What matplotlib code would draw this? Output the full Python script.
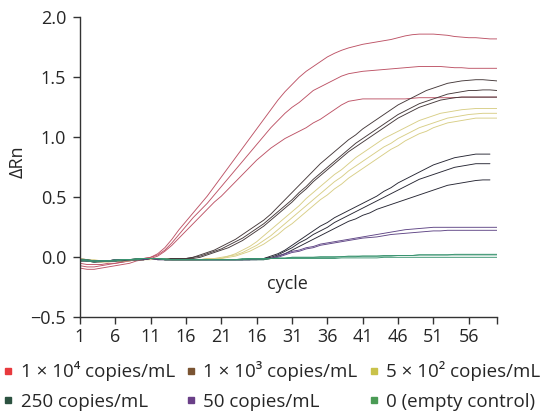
import matplotlib
matplotlib.use("Agg")
import matplotlib.pyplot as plt
from matplotlib.lines import Line2D

plt.rcParams['font.family'] = ['Open Sans', 'DejaVu Sans']

# ---------------- data ----------------
cycles = list(range(1, 61))
x_ticks = [1, 6, 11, 16, 21, 26, 31, 36, 41, 46, 51, 56]
x_tick_labels = ['1', '6', '11', '16', '21', '16', '31', '36', '41', '46', '51', '56']
y_ticks = [-0.5, 0.0, 0.5, 1.0, 1.5, 2.0]
y_tick_labels = ['\u22120.5', '0.0', '0.5', '1.0', '1.5', '2.0']

legend_labels = ['1 \u00d7 10\u2074 copies/mL', '1 \u00d7 10\u00b3 copies/mL',
                 '5 \u00d7 10\u00b2 copies/mL', '250 copies/mL', '50 copies/mL',
                 '0 (empty control)']
legend_colors = ['#e8393d', '#7a5432', '#c9c24a', '#2c5240', '#6a3f88', '#4a9b55']

# 1 x 10^4 copies/mL
r1 = [-0.05, -0.06, -0.06, -0.06, -0.05, -0.05, -0.04, -0.03, -0.02, -0.01, 0.00,
      0.03, 0.08, 0.15, 0.23, 0.30, 0.37, 0.44, 0.51, 0.59,
      0.67, 0.75, 0.83, 0.91, 0.99, 1.07, 1.15, 1.23, 1.31, 1.38,
      1.44, 1.50, 1.55, 1.59, 1.63, 1.67, 1.70, 1.725, 1.745, 1.76,
      1.775, 1.785, 1.795, 1.805, 1.815, 1.83, 1.845, 1.855, 1.86, 1.86,
      1.86, 1.855, 1.85, 1.84, 1.835, 1.83, 1.83, 1.825, 1.82, 1.82]
r2 = [-0.07, -0.08, -0.08, -0.07, -0.06, -0.05, -0.04, -0.03, -0.02, -0.01, 0.00,
      0.02, 0.06, 0.12, 0.19, 0.26, 0.33, 0.39, 0.45, 0.52,
      0.59, 0.66, 0.73, 0.80, 0.87, 0.94, 1.01, 1.08, 1.14, 1.20,
      1.25, 1.29, 1.34, 1.39, 1.42, 1.45, 1.48, 1.51, 1.53, 1.54,
      1.55, 1.555, 1.56, 1.565, 1.57, 1.575, 1.58, 1.585, 1.59, 1.59,
      1.59, 1.59, 1.585, 1.58, 1.58, 1.575, 1.575, 1.575, 1.575, 1.575]
r3 = [-0.09, -0.10, -0.10, -0.09, -0.08, -0.07, -0.06, -0.05, -0.03, -0.02, -0.01,
      0.01, 0.05, 0.10, 0.16, 0.22, 0.28, 0.34, 0.40, 0.46,
      0.51, 0.57, 0.63, 0.69, 0.75, 0.81, 0.86, 0.91, 0.95, 0.99,
      1.02, 1.05, 1.08, 1.12, 1.15, 1.19, 1.23, 1.27, 1.30, 1.31,
      1.32, 1.32, 1.32, 1.32, 1.32, 1.32, 1.32, 1.325, 1.33, 1.33,
      1.33, 1.33, 1.33, 1.33, 1.335, 1.335, 1.335, 1.335, 1.335, 1.335]

# 1 x 10^3 copies/mL
b1 = [-0.02, -0.03, -0.03, -0.03, -0.03, -0.03, -0.02, -0.02, -0.02, -0.01,
      -0.01, -0.01, -0.01, -0.01, -0.01, -0.01,
      0.00, 0.02, 0.04, 0.06, 0.09, 0.12, 0.15, 0.19, 0.23, 0.27,
      0.31, 0.36, 0.42, 0.48, 0.54, 0.60, 0.66, 0.72, 0.78, 0.83,
      0.88, 0.93, 0.98, 1.02, 1.07, 1.11, 1.15, 1.19, 1.23, 1.27,
      1.30, 1.33, 1.36, 1.39, 1.41, 1.43, 1.45, 1.46, 1.47, 1.475,
      1.48, 1.48, 1.475, 1.47]
b2 = [-0.01, -0.02, -0.03, -0.03, -0.03, -0.02, -0.02, -0.02, -0.01, -0.01,
      -0.01, -0.01, -0.01, -0.01, -0.01, -0.01,
      0.00, 0.01, 0.03, 0.05, 0.07, 0.10, 0.13, 0.16, 0.20, 0.24,
      0.28, 0.33, 0.38, 0.43, 0.48, 0.54, 0.59, 0.65, 0.70, 0.75,
      0.80, 0.85, 0.90, 0.95, 0.99, 1.03, 1.07, 1.11, 1.15, 1.19,
      1.22, 1.25, 1.28, 1.30, 1.32, 1.34, 1.36, 1.37, 1.38, 1.39,
      1.39, 1.395, 1.395, 1.39]
b3 = [-0.03, -0.03, -0.04, -0.04, -0.03, -0.03, -0.03, -0.02, -0.02, -0.02,
      -0.01, -0.01, -0.01, -0.01, -0.01, -0.01,
      -0.01, 0.00, 0.02, 0.04, 0.06, 0.08, 0.11, 0.14, 0.18, 0.22,
      0.26, 0.31, 0.36, 0.41, 0.46, 0.52, 0.57, 0.63, 0.68, 0.73,
      0.78, 0.83, 0.88, 0.92, 0.96, 1.00, 1.04, 1.08, 1.12, 1.16,
      1.19, 1.22, 1.25, 1.27, 1.29, 1.31, 1.32, 1.33, 1.335, 1.335,
      1.335, 1.335, 1.335, 1.335]

# 5 x 10^2 copies/mL
y1 = [-0.01, -0.02, -0.02, -0.03, -0.03, -0.03, -0.02, -0.02, -0.02, -0.01,
      -0.01, -0.01, -0.01, -0.02, -0.02, -0.02, -0.02, -0.02, -0.01, -0.01,
      0.00, 0.01, 0.03, 0.06, 0.09, 0.13, 0.18, 0.23, 0.28, 0.33,
      0.38, 0.43, 0.49, 0.54, 0.59, 0.64, 0.69, 0.73, 0.78, 0.83,
      0.87, 0.91, 0.95, 0.99, 1.02, 1.05, 1.08, 1.11, 1.14, 1.16,
      1.18, 1.20, 1.21, 1.22, 1.23, 1.235, 1.24, 1.24, 1.24, 1.24]
y2 = [-0.02, -0.02, -0.03, -0.03, -0.03, -0.03, -0.03, -0.02, -0.02, -0.02,
      -0.01, -0.01, -0.02, -0.02, -0.02, -0.02, -0.02, -0.02, -0.01, -0.01,
      -0.01, 0.01, 0.02, 0.04, 0.07, 0.10, 0.14, 0.18, 0.23, 0.28,
      0.33, 0.38, 0.43, 0.48, 0.53, 0.58, 0.63, 0.67, 0.72, 0.76,
      0.80, 0.84, 0.88, 0.92, 0.95, 0.99, 1.02, 1.05, 1.08, 1.10,
      1.12, 1.14, 1.16, 1.17, 1.18, 1.19, 1.195, 1.20, 1.20, 1.20]
y3 = [-0.03, -0.03, -0.03, -0.04, -0.04, -0.03, -0.03, -0.03, -0.02, -0.02,
      -0.02, -0.01, -0.02, -0.02, -0.02, -0.02, -0.02, -0.02, -0.02, -0.01,
      -0.01, 0.00, 0.01, 0.03, 0.05, 0.08, 0.11, 0.15, 0.19, 0.24,
      0.28, 0.33, 0.38, 0.43, 0.48, 0.52, 0.57, 0.61, 0.66, 0.70,
      0.74, 0.78, 0.82, 0.86, 0.90, 0.93, 0.97, 1.00, 1.03, 1.05,
      1.08, 1.10, 1.12, 1.13, 1.14, 1.15, 1.16, 1.16, 1.16, 1.16]

# 250 copies/mL (runs to cycle 59)
k1 = [-0.02, -0.03, -0.03, -0.03, -0.03, -0.02, -0.02, -0.02, -0.02, -0.01,
      -0.01, -0.01, -0.02, -0.02, -0.02, -0.02, -0.02, -0.02, -0.02, -0.02,
      -0.02, -0.02, -0.02, -0.02, -0.01, -0.01, -0.01,
      0.01, 0.03, 0.06, 0.10, 0.14, 0.18, 0.22, 0.26, 0.29, 0.33,
      0.36, 0.39, 0.42, 0.45, 0.48, 0.51, 0.55, 0.58, 0.62, 0.65,
      0.68, 0.71, 0.74, 0.77, 0.79, 0.81, 0.83, 0.84, 0.85, 0.86, 0.86, 0.86]
k2 = [-0.03, -0.03, -0.04, -0.03, -0.03, -0.03, -0.02, -0.02, -0.02, -0.02,
      -0.01, -0.02, -0.02, -0.02, -0.02, -0.02, -0.02, -0.02, -0.02, -0.02,
      -0.02, -0.02, -0.02, -0.02, -0.02, -0.01, -0.01,
      0.00, 0.02, 0.05, 0.08, 0.12, 0.15, 0.19, 0.22, 0.25, 0.29,
      0.32, 0.35, 0.38, 0.41, 0.44, 0.47, 0.50, 0.53, 0.56, 0.59,
      0.62, 0.65, 0.67, 0.69, 0.71, 0.73, 0.75, 0.76, 0.77, 0.78, 0.78, 0.78]
k3 = [-0.02, -0.02, -0.03, -0.03, -0.03, -0.03, -0.03, -0.02, -0.02, -0.02,
      -0.01, -0.01, -0.02, -0.02, -0.02, -0.02, -0.02, -0.02, -0.02, -0.02,
      -0.02, -0.02, -0.02, -0.02, -0.02, -0.02, -0.02,
      -0.01, 0.01, 0.03, 0.06, 0.09, 0.12, 0.15, 0.18, 0.21, 0.24,
      0.27, 0.30, 0.32, 0.35, 0.37, 0.40, 0.42, 0.44, 0.46, 0.48,
      0.50, 0.52, 0.54, 0.56, 0.58, 0.60, 0.61, 0.62, 0.63, 0.64, 0.645, 0.645]

# 50 copies/mL
p1 = [-0.02, -0.03, -0.03, -0.03, -0.03, -0.02, -0.02, -0.02, -0.02, -0.01,
      -0.01, -0.01, -0.02, -0.02, -0.02, -0.02, -0.02, -0.02, -0.02, -0.02,
      -0.02, -0.02, -0.02, -0.02, -0.02, -0.01, -0.01, -0.01,
      0.01, 0.03, 0.05, 0.06, 0.08, 0.09, 0.11, 0.12, 0.13, 0.14,
      0.15, 0.16, 0.17, 0.18, 0.19, 0.20, 0.21, 0.22, 0.23, 0.235,
      0.24, 0.245, 0.25, 0.25, 0.25, 0.25, 0.25, 0.25, 0.25, 0.25, 0.25, 0.25]
p2 = [-0.03, -0.03, -0.03, -0.03, -0.03, -0.03, -0.02, -0.02, -0.02, -0.02,
      -0.01, -0.02, -0.02, -0.02, -0.02, -0.02, -0.02, -0.02, -0.02, -0.02,
      -0.02, -0.02, -0.02, -0.02, -0.02, -0.02, -0.01, -0.01,
      0.00, 0.02, 0.04, 0.05, 0.07, 0.08, 0.10, 0.11, 0.12, 0.13,
      0.14, 0.15, 0.16, 0.165, 0.17, 0.18, 0.19, 0.195, 0.20, 0.205,
      0.21, 0.215, 0.22, 0.22, 0.225, 0.225, 0.225, 0.225, 0.225, 0.225, 0.225, 0.225]

# 0 (empty control)
g1 = [-0.02, -0.03, -0.03, -0.03, -0.03, -0.02, -0.02, -0.02, -0.01, -0.01,
      -0.01, -0.01, -0.02, -0.02, -0.02, -0.02, -0.02, -0.02, -0.02, -0.02,
      -0.02, -0.02, -0.02, -0.02, -0.01, -0.01, -0.01, -0.01, -0.01, -0.01,
      0.00, 0.00, 0.00, 0.00, 0.00, 0.00, 0.00, 0.005, 0.005, 0.005,
      0.01, 0.01, 0.01, 0.01, 0.01, 0.015, 0.015, 0.015, 0.02, 0.02,
      0.02, 0.02, 0.02, 0.025, 0.025, 0.025, 0.025, 0.025, 0.025, 0.025]
g2 = [-0.03, -0.03, -0.04, -0.03, -0.03, -0.03, -0.02, -0.02, -0.02, -0.01,
      -0.01, -0.01, -0.02, -0.02, -0.02, -0.02, -0.02, -0.02, -0.02, -0.02,
      -0.02, -0.02, -0.02, -0.02, -0.02, -0.02, -0.02, -0.01, -0.01, -0.01,
      -0.01, -0.01, -0.01, -0.01, -0.01, -0.01, -0.01, -0.005, -0.005, -0.005,
      -0.005, -0.005, -0.005, 0.0, 0.0, 0.0, 0.0, 0.0, 0.0, 0.0,
      0.0, 0.0, 0.0, 0.0, 0.0, 0.0, 0.0, 0.0, 0.0, 0.0]
g3 = [-0.02, -0.02, -0.03, -0.03, -0.03, -0.03, -0.02, -0.02, -0.02, -0.01,
      -0.01, -0.01, -0.01, -0.02, -0.02, -0.02, -0.02, -0.02, -0.02, -0.02,
      -0.02, -0.02, -0.02, -0.01, -0.01, -0.01, -0.01, -0.01, -0.005, -0.005,
      0.00, 0.00, 0.00, 0.00, 0.005, 0.005, 0.005, 0.005, 0.01, 0.01,
      0.01, 0.01, 0.01, 0.015, 0.015, 0.015, 0.015, 0.015, 0.02, 0.02,
      0.02, 0.02, 0.02, 0.02, 0.02, 0.02, 0.02, 0.02, 0.02, 0.02]

groups = [
    ([r1, r2, r3], '#bd5366'),
    ([b1, b2, b3], '#45393a'),
    ([y1, y2, y3], '#d8ce86'),
    ([k1, k2, k3], '#262633'),
    ([p1, p2], '#5f4585'),
    ([g1, g2, g3], '#3a9470'),
]

# ---------------- figure ----------------
fig = plt.figure(figsize=(5.41, 4.15), dpi=100)
ax = fig.add_axes([0.1479, 0.2354, 0.7708, 0.7229])

for curves, col in groups:
    for vals in curves:
        ax.plot(cycles[:len(vals)], vals, color=col, lw=0.65, solid_capstyle='round')

ax.set_xlim(1, 60)
ax.set_ylim(-0.5, 2.0)
ax.set_xticks(x_ticks)
ax.set_xticklabels(x_tick_labels)
ax.set_xticks([60], minor=True)
ax.set_yticks(y_ticks)
ax.set_yticklabels(y_tick_labels)

for s in ['top', 'right']:
    ax.spines[s].set_visible(False)
for s in ['left', 'bottom']:
    ax.spines[s].set_color('#333333')
    ax.spines[s].set_linewidth(1.0)
ax.tick_params(axis='both', which='both', direction='out', length=5, width=1.0,
               color='#333333', labelsize=13, labelcolor='#262626')
ax.tick_params(axis='y', pad=5)
ax.tick_params(axis='x', pad=3)

fig.text(17.5 / 541, 1 - 161.7 / 415, '\u0394Rn', rotation=90, fontsize=13,
         color='#262626', ha='center', va='center')
ax.text(30.4, -0.22, 'cycle', fontsize=13, color='#262626', ha='center', va='center')

handles = [Line2D([], [], linestyle='none', marker='s', markersize=4.5,
                  markerfacecolor=c, markeredgecolor=c) for c in legend_colors]
order = [0, 3, 1, 4, 2, 5]
fig.legend([handles[i] for i in order], [legend_labels[i] for i in order],
           loc='center', bbox_to_anchor=(0.503, 1 - 386 / 415), ncol=3, frameon=False,
           fontsize=13.5, handlelength=0.45, handletextpad=0.45,
           columnspacing=0.62, labelspacing=0.6, labelcolor='#262626',
           borderaxespad=0, borderpad=0)

fig.savefig('out.png', dpi=100)
